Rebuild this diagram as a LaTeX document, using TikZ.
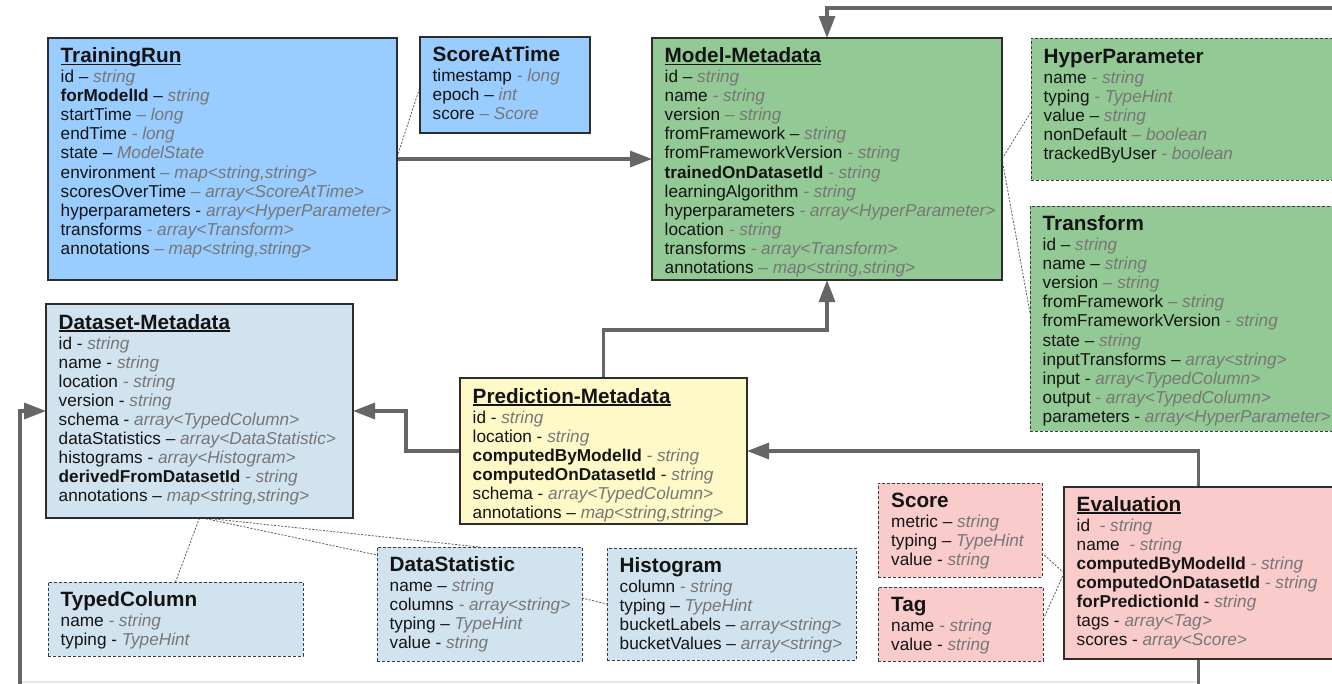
\documentclass[tikz,border=0pt]{standalone}
\usepackage{fontspec}
\setmainfont{Liberation Sans}
\usetikzlibrary{arrows.meta,backgrounds}

\definecolor{runblue}{RGB}{153,204,255}
\definecolor{modelgreen}{RGB}{147,201,149}
\definecolor{dsblue}{RGB}{208,227,238}
\definecolor{predyellow}{RGB}{255,249,199}
\definecolor{evalpink}{RGB}{249,203,203}
\definecolor{boxline}{RGB}{45,45,45}
\definecolor{dashline}{RGB}{60,60,60}
\definecolor{linkgray}{RGB}{102,102,102}
\definecolor{dotgray}{RGB}{90,90,90}
\definecolor{typegray}{RGB}{119,119,119}
\definecolor{ink}{RGB}{20,20,20}

% field type in grey italics
\newcommand{\tyf}[1]{{\color{typegray}\itshape #1}}
% underlined entity name
\newcommand{\ulined}[1]{\setbox0\hbox{#1}\rlap{\rule[-2.6pt]{\wd0}{1.4pt}}\box0}
% stacked card text: title line, then one field per line
\newcommand{\cardtitle}[1]{\hbox{\fontsize{20.7}{22}\selectfont\bfseries #1}\vskip0.9pt}
\newcommand{\fieldrow}[1]{\hbox{\fontsize{17.2}{19.1}\selectfont #1}}
\newcommand{\entitycard}[1]{\vtop{\baselineskip=19.1pt\lineskiplimit=-100pt\lineskip=0pt\relax #1}}

\tikzset{
  entity/.style={draw=boxline, line width=1.1pt, anchor=north west, inner sep=0pt, outer sep=0pt},
  subtype/.style={entity, draw=dashline, dash pattern=on 3pt off 2pt, line width=0.9pt},
  cardtext/.style={anchor=base west, inner sep=0pt, text=ink},
  link/.style={draw=linkgray, line width=3.2pt, -{Triangle[length=22pt,width=16pt]}},
  plainlink/.style={draw=linkgray, line width=3.2pt},
  assoc/.style={draw=dotgray, line width=0.8pt, dash pattern=on 2pt off 1.5pt},
}

\begin{document}
\begin{tikzpicture}[x=1pt,y=-1pt]
\useasboundingbox (0,0) rectangle (1332,683);
\clip (0,0) rectangle (1332,683);

% ---------- entities ----------
\node[entity, fill=runblue, minimum width=349pt, minimum height=242pt] (tr) at (48,38) {};
\node[cardtext] (tr-text) at (60.5,62.5) {\entitycard{%
  \cardtitle{\ulined{TrainingRun}}
  \fieldrow{id – \tyf{string}}
  \fieldrow{\textbf{forModelId} – \tyf{string}}
  \fieldrow{startTime \tyf{– long}}
  \fieldrow{endTime \tyf{- long}}
  \fieldrow{state – \tyf{ModelState}}
  \fieldrow{environment \tyf{– map<string,string>}}
  \fieldrow{scoresOverTime \tyf{– array<ScoreAtTime>}}
  \fieldrow{hyperparameters - \tyf{array<HyperParameter>}}
  \fieldrow{transforms \tyf{- array<Transform>}}
  \fieldrow{annotations \tyf{– map<string,string>}}}};

\node[entity, fill=runblue, minimum width=170pt, minimum height=96pt] (sat) at (420,37) {};
\node[cardtext] (sat-text) at (432.5,61.5) {\entitycard{%
  \cardtitle{ScoreAtTime}
  \fieldrow{timestamp \tyf{- long}}
  \fieldrow{epoch – \tyf{int}}
  \fieldrow{score \tyf{– Score}}}};

\node[entity, fill=modelgreen, minimum width=350pt, minimum height=242pt] (mm) at (652,38) {};
\node[cardtext] (mm-text) at (664.5,62.5) {\entitycard{%
  \cardtitle{\ulined{Model-Metadata}}
  \fieldrow{id – \tyf{string}}
  \fieldrow{name \tyf{- string}}
  \fieldrow{version \tyf{– string}}
  \fieldrow{fromFramework – \tyf{string}}
  \fieldrow{fromFrameworkVersion \tyf{- string}}
  \fieldrow{\textbf{trainedOnDatasetId} \tyf{- string}}
  \fieldrow{learningAlgorithm \tyf{- string}}
  \fieldrow{hyperparameters \tyf{- array<HyperParameter>}}
  \fieldrow{location \tyf{- string}}
  \fieldrow{transforms \tyf{- array<Transform>}}
  \fieldrow{annotations \tyf{– map<string,string>}}}};

\node[subtype, fill=modelgreen, minimum width=320pt, minimum height=142pt] (hp) at (1031,38) {};
\node[cardtext] (hp-text) at (1043.5,63) {\entitycard{%
  \cardtitle{HyperParameter}
  \fieldrow{name \tyf{- string}}
  \fieldrow{typing \tyf{- TypeHint}}
  \fieldrow{value – \tyf{string}}
  \fieldrow{nonDefault \tyf{– boolean}}
  \fieldrow{trackedByUser \tyf{- boolean}}}};

\node[subtype, fill=modelgreen, minimum width=320pt, minimum height=225pt] (tf) at (1030,206) {};
\node[cardtext] (tf-text) at (1042.5,230.5) {\entitycard{%
  \cardtitle{Transform}
  \fieldrow{id – \tyf{string}}
  \fieldrow{name – \tyf{string}}
  \fieldrow{version \tyf{– string}}
  \fieldrow{fromFramework \tyf{– string}}
  \fieldrow{fromFrameworkVersion \tyf{- string}}
  \fieldrow{state – \tyf{string}}
  \fieldrow{inputTransforms – \tyf{array<string>}}
  \fieldrow{input - \tyf{array<TypedColumn>}}
  \fieldrow{output \tyf{- array<TypedColumn>}}
  \fieldrow{parameters - \tyf{array<HyperParameter>}}}};

\node[entity, fill=dsblue, minimum width=307pt, minimum height=214pt] (ds) at (46,304) {};
\node[cardtext] (ds-text) at (58.5,329) {\entitycard{%
  \cardtitle{\ulined{Dataset-Metadata}}
  \fieldrow{id - \tyf{string}}
  \fieldrow{name - \tyf{string}}
  \fieldrow{location \tyf{- string}}
  \fieldrow{version - \tyf{string}}
  \fieldrow{schema - \tyf{array<TypedColumn>}}
  \fieldrow{dataStatistics – \tyf{array<DataStatistic>}}
  \fieldrow{histograms - \tyf{array<Histogram>}}
  \fieldrow{\textbf{derivedFromDatasetId} \tyf{- string}}
  \fieldrow{annotations – \tyf{map<string,string>}}}};

\node[entity, fill=predyellow, minimum width=287pt, minimum height=146pt] (pm) at (460,378) {};
\node[cardtext] (pm-text) at (472.5,403) {\entitycard{%
  \cardtitle{\ulined{Prediction-Metadata}}
  \fieldrow{id - \tyf{string}}
  \fieldrow{location - \tyf{string}}
  \fieldrow{\textbf{computedByModelId} \tyf{- string}}
  \fieldrow{\textbf{computedOnDatasetId} - \tyf{string}}
  \fieldrow{schema - \tyf{array<TypedColumn>}}
  \fieldrow{annotations – \tyf{map<string,string>}}}};

\node[subtype, fill=dsblue, minimum width=255pt, minimum height=74pt] (tc) at (48,582) {};
\node[cardtext] (tc-text) at (60.5,606.5) {\entitycard{%
  \cardtitle{TypedColumn}
  \fieldrow{name \tyf{- string}}
  \fieldrow{typing - \tyf{TypeHint}}}};

\node[subtype, fill=dsblue, minimum width=205pt, minimum height=114pt] (dst) at (377,547) {};
\node[cardtext] (dst-text) at (389.5,571.5) {\entitycard{%
  \cardtitle{DataStatistic}
  \fieldrow{name – \tyf{string}}
  \fieldrow{columns \tyf{- array<string>}}
  \fieldrow{typing – \tyf{TypeHint}}
  \fieldrow{value - \tyf{string}}}};

\node[subtype, fill=dsblue, minimum width=249pt, minimum height=112pt] (hist) at (607,548) {};
\node[cardtext] (hist-text) at (619.5,572.5) {\entitycard{%
  \cardtitle{Histogram}
  \fieldrow{column \tyf{- string}}
  \fieldrow{typing – \tyf{TypeHint}}
  \fieldrow{bucketLabels – \tyf{array<string>}}
  \fieldrow{bucketValues – \tyf{array<string>}}}};

\node[subtype, fill=evalpink, minimum width=164pt, minimum height=94pt] (sc) at (878,483) {};
\node[cardtext] (sc-text) at (891,507.5) {\entitycard{%
  \cardtitle{Score}
  \fieldrow{metric – \tyf{string}}
  \fieldrow{typing – \tyf{TypeHint}}
  \fieldrow{value - \tyf{string}}}};

\node[subtype, fill=evalpink, minimum width=165pt, minimum height=74pt] (tag) at (878,587) {};
\node[cardtext] (tag-text) at (891,611) {\entitycard{%
  \cardtitle{Tag}
  \fieldrow{name \tyf{- string}}
  \fieldrow{value - \tyf{string}}}};

\node[entity, fill=evalpink, minimum width=276pt, minimum height=172pt] (ev) at (1064,487) {};
\node[cardtext] (ev-text) at (1076.5,511) {\entitycard{%
  \cardtitle{\ulined{Evaluation}}
  \fieldrow{id\ \ \tyf{- string}}
  \fieldrow{name\ \ \tyf{- string}}
  \fieldrow{\textbf{computedByModelId} \tyf{- string}}
  \fieldrow{\textbf{computedOnDatasetId} \tyf{- string}}
  \fieldrow{\textbf{forPredictionId} - \tyf{string}}
  \fieldrow{tags - \tyf{array<Tag>}}
  \fieldrow{scores - \tyf{array<Score>}}}};

% ---------- connectors, behind the cards ----------
\begin{scope}[on background layer]
  \fill[white] (0,0) rectangle (1332,683);
  \draw[line width=2pt, draw=black!9] (22,681.5) -- (1196,681.5);

  \coordinate (feedin) at (1345,8);
  \coordinate (dsfeed) at (20,695);
  \coordinate (evfeed) at (1198.5,695);

  \draw[link] (tr.east) -- (mm.west);
  \draw[link] (feedin) -| (mm.north);
  \draw[link] (pm.north) -- ++(0,-48) -| (mm.south);
  \draw[link] (pm.west) -- ++(-54,0) |- (ds.east);
  \draw[link] ([xshift=-3.5pt]ev.north) |- (pm.east);
  \draw[link] (dsfeed) |- (ds.west);
  \draw[plainlink] (evfeed) -- ([xshift=-3.5pt]ev.south);

  \draw[assoc] ([yshift=2pt]tr.east) -- ([yshift=-2pt]sat.west);
  \draw[assoc] (mm.east) -- ([yshift=-3pt]hp.west);
  \draw[assoc] (mm.east) -- ([yshift=5.5pt]tf.west);
  \draw[assoc] (ds.south) -- (tc.north);
  \draw[assoc] ([xshift=3pt]ds.south) -- ([yshift=-8pt]dst.north west);
  \draw[assoc] ([xshift=5pt]ds.south) -- (dst.north);
  \draw[assoc] ([yshift=6pt]dst.east) -- (hist.west);
  \draw[assoc] (ev.west) -- ([yshift=-23pt]sc.east);
  \draw[assoc] (ev.west) -- ([yshift=4pt]tag.east);
\end{scope}
\end{tikzpicture}
\end{document}
